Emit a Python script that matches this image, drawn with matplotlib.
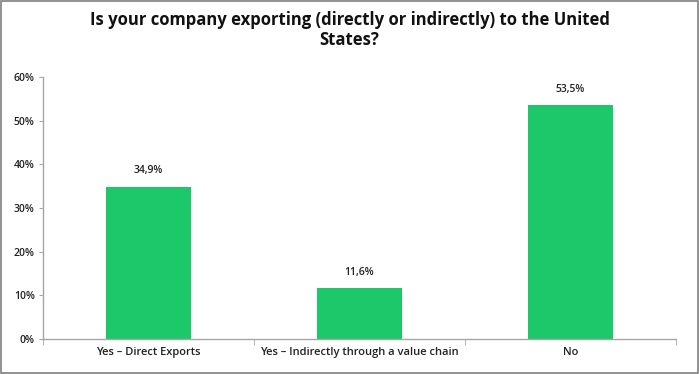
import matplotlib.pyplot as plt
from matplotlib.patches import Rectangle
from matplotlib.ticker import FuncFormatter

categories = ["Yes – Direct Exports", "Yes – Indirectly through a value chain", "No"]
values = [34.9, 11.6, 53.5]
yticks = [0, 10, 20, 30, 40, 50, 60]
title = "Is your company exporting (directly or indirectly) to the United\nStates?"

plt.rcParams['font.family'] = ['Open Sans', 'DejaVu Sans']

fig = plt.figure(figsize=(6.99, 3.74), dpi=100)
ax = fig.add_axes([43 / 699, 1 - 339 / 374, 633 / 699, 262 / 374])

xs = list(range(len(categories)))
bars = ax.bar(xs, values, width=0.4, color="#1DC86B")

for b, v in zip(bars, values):
    ax.text(b.get_x() + b.get_width() / 2, v + 3.7, f"{v:.1f}%".replace(".", ","),
            ha="center", va="center", fontsize=7.5, fontweight="semibold", color="#222222")

ax.set_xlim(-0.5, 2.5)
ax.set_ylim(0, 60)
ax.set_yticks(yticks)
ax.yaxis.set_major_formatter(FuncFormatter(lambda v, p: f"{v:.0f}%"))
ax.set_xticks(xs)
ax.set_xticklabels(categories)
ax.set_xticks([-0.5, 0.5, 1.5, 2.5], minor=True)
ax.tick_params(axis="x", which="major", length=0, pad=6, labelsize=8, labelcolor="#222222")
ax.tick_params(axis="x", which="minor", length=4, color="#A6A6A6")
ax.tick_params(axis="y", length=3, color="#A6A6A6", labelsize=7.5, labelcolor="#222222", pad=3)
for lbl in ax.get_xticklabels() + ax.get_yticklabels():
    lbl.set_fontweight("semibold")

for s in ["top", "right"]:
    ax.spines[s].set_visible(False)
for s in ["left", "bottom"]:
    ax.spines[s].set_color("#A6A6A6")
    ax.spines[s].set_linewidth(1)

fig.text(0.5, 1 - 30 / 374, title, ha="center", va="center", fontsize=12,
         fontweight="bold", color="#111111", linespacing=1.15)

fig.patches.append(Rectangle((0.001, 0.002), 0.997, 0.996, transform=fig.transFigure,
                             fill=False, edgecolor="#7F7F7F", linewidth=1.2))

fig.savefig("out.png", dpi=100)
